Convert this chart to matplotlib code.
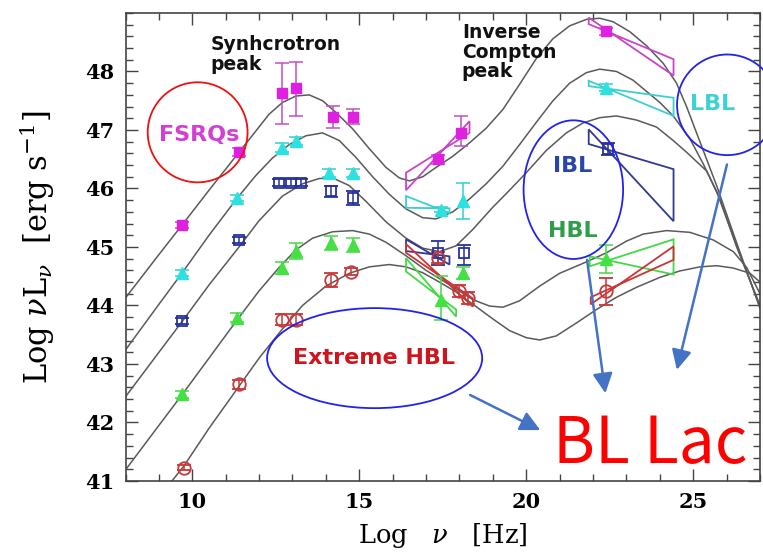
import numpy as np
import matplotlib
matplotlib.use('Agg')
import matplotlib.pyplot as plt
from matplotlib.patches import Ellipse, Polygon
from matplotlib.ticker import MultipleLocator

plt.rcParams['mathtext.fontset'] = 'dejavuserif'

### Model SEDs (log nu, log nuL_nu), brightest to faintest ###
fsrq_nu = [8.0, 9.0, 9.7, 10.5, 11.4, 11.9, 12.3, 12.7, 13.1, 13.5, 13.9, 14.3, 14.8, 15.3, 15.8,
           16.2, 16.5, 16.9, 17.3, 17.8, 18.3, 18.8, 19.3, 19.8, 20.3, 20.8, 21.3, 21.8, 22.2,
           22.6, 23.1, 23.6, 24.1, 24.5, 24.8, 25.2, 25.7, 26.3, 27.0]
fsrq_L = [44.13, 44.87, 45.38, 45.97, 46.62, 46.98, 47.27, 47.47, 47.58, 47.60, 47.50, 47.30, 47.02,
          46.68, 46.36, 46.18, 46.13, 46.20, 46.36, 46.55, 46.78, 47.03, 47.35, 47.78, 48.22, 48.56,
          48.78, 48.89, 48.91, 48.85, 48.68, 48.44, 48.14, 47.80, 47.40, 46.80, 46.05, 45.07, 43.95]

lbl_nu = [8.0, 9.0, 9.7, 10.5, 11.35, 11.9, 12.4, 12.9, 13.4, 13.9, 14.4, 14.9, 15.4, 15.9, 16.4,
          16.9, 17.3, 17.8, 18.3, 18.8, 19.3, 19.8, 20.3, 20.8, 21.3, 21.8, 22.2, 22.7, 23.2, 23.6,
          24.0, 24.4, 24.9, 25.3, 25.7, 26.3, 27.0]
lbl_L = [43.24, 44.02, 44.56, 45.20, 45.84, 46.22, 46.52, 46.75, 46.90, 46.95, 46.82, 46.53, 46.20,
         45.90, 45.65, 45.50, 45.48, 45.60, 45.82, 46.08, 46.38, 46.75, 47.13, 47.50, 47.80, 47.98,
         48.04, 48.00, 47.85, 47.66, 47.47, 47.24, 46.85, 46.42, 45.95, 45.02, 43.98]

ibl_nu = [8.0, 9.0, 9.7, 10.5, 11.4, 12.0, 12.7, 13.3, 13.8, 14.2, 14.7, 15.2, 15.8, 16.4, 16.9,
          17.4, 17.9, 18.4, 19.0, 19.5, 20.0, 20.6, 21.2, 21.7, 22.2, 22.7, 23.3, 23.9, 24.4, 24.8,
          25.4, 25.8, 26.3, 27.0]
ibl_L = [42.44, 43.20, 43.73, 44.35, 45.00, 45.45, 45.87, 46.08, 46.17, 46.18, 46.05, 45.78, 45.43,
         45.15, 44.98, 44.92, 45.02, 45.30, 45.68, 45.97, 46.27, 46.65, 46.95, 47.12, 47.21, 47.24,
         47.17, 47.05, 46.82, 46.62, 46.30, 45.82, 45.00, 44.00]

hbl_nu = [8.0, 9.0, 9.7, 10.5, 11.35, 12.0, 12.6, 13.1, 13.6, 14.2, 14.8, 15.3, 15.8, 16.4, 17.0,
          17.8, 18.4, 18.9, 19.3, 19.8, 20.4, 21.0, 21.7, 22.4, 23.0, 23.5, 24.2, 24.9, 25.6, 26.2,
          26.6, 27.0]
hbl_L = [41.19, 41.95, 42.48, 43.10, 43.76, 44.25, 44.65, 44.95, 45.15, 45.26, 45.28, 45.22, 45.08,
         44.85, 44.60, 44.32, 44.10, 43.99, 43.97, 44.08, 44.33, 44.55, 44.72, 44.90, 45.10, 45.22,
         45.28, 45.25, 45.12, 44.92, 44.65, 44.20]

xhbl_nu = [9.39, 9.74, 10.5, 11.4, 12.0, 12.7, 13.3, 14.0, 14.7, 15.3, 15.9, 16.4, 16.9, 17.4, 17.9,
           18.5, 19.0, 19.5, 20.0, 20.4, 20.9, 21.5, 22.1, 22.7, 23.3, 24.0, 24.6, 25.2, 25.7, 26.2,
           26.7, 27.0]
xhbl_L = [41.00, 41.25, 41.90, 42.62, 43.10, 43.60, 44.00, 44.33, 44.55, 44.66, 44.70, 44.66, 44.56,
          44.40, 44.23, 43.98, 43.77, 43.57, 43.45, 43.41, 43.48, 43.70, 43.93, 44.14, 44.31, 44.48,
          44.59, 44.66, 44.68, 44.64, 44.55, 44.40]

### Averaged photometry: x, y, lower error, upper error ###
fsrq_x = [9.7, 11.4, 12.7, 13.1, 14.2, 14.8, 17.35, 18.05, 22.4]
fsrq_y = [45.38, 46.62, 47.63, 47.71, 47.23, 47.23, 46.50, 46.95, 48.69]
fsrq_lo = [0.05, 0.07, 0.53, 0.47, 0.19, 0.12, 0.08, 0.23, 0.06]
fsrq_hi = [0.05, 0.07, 0.52, 0.45, 0.18, 0.12, 0.08, 0.29, 0.06]

lbl_x = [9.7, 11.35, 12.7, 13.1, 14.1, 14.8, 17.45, 18.1, 22.4]
lbl_y = [44.56, 45.84, 46.70, 46.81, 46.27, 46.27, 45.64, 45.78, 47.72]
lbl_lo = [0.05, 0.05, 0.07, 0.07, 0.07, 0.07, 0.05, 0.31, 0.06]
lbl_hi = [0.05, 0.05, 0.07, 0.07, 0.07, 0.07, 0.05, 0.32, 0.06]

ibl_x = [9.7, 11.4, 12.6, 12.95, 13.25, 14.15, 14.8, 17.35, 18.15, 22.45]
ibl_y = [43.73, 45.12, 46.10, 46.10, 46.10, 45.95, 45.84, 44.90, 44.90, 46.67]
ibl_lo = [0.05, 0.05, 0.06, 0.06, 0.06, 0.10, 0.12, 0.20, 0.20, 0.10]
ibl_hi = [0.05, 0.05, 0.06, 0.06, 0.06, 0.10, 0.12, 0.20, 0.14, 0.10]

hbl_x = [9.7, 11.35, 12.7, 13.1, 14.15, 14.8, 17.45, 18.1, 22.4]
hbl_y = [42.48, 43.79, 44.64, 44.93, 45.07, 45.03, 44.10, 44.56, 44.80]
hbl_lo = [0.06, 0.08, 0.10, 0.13, 0.12, 0.12, 0.34, 0.10, 0.24]
hbl_hi = [0.06, 0.08, 0.10, 0.13, 0.12, 0.12, 0.40, 0.10, 0.24]

xhbl_x = [9.75, 11.4, 12.7, 13.1, 14.15, 14.75, 17.35, 18.0, 18.25, 22.4]
xhbl_y = [41.23, 42.65, 43.76, 43.76, 44.44, 44.58, 44.82, 44.25, 44.13, 44.24]
xhbl_lo = [0.05, 0.08, 0.10, 0.10, 0.12, 0.06, 0.10, 0.10, 0.10, 0.23]
xhbl_hi = [0.05, 0.08, 0.10, 0.10, 0.12, 0.06, 0.10, 0.10, 0.10, 0.23]

### X-ray and gamma-ray bow ties: x_left, x_right, (y_left_a, y_left_b), (y_right_a, y_right_b) ###
fsrq_ties = [(16.4, 18.3, (46.27, 45.97), (46.95, 47.15)),
             (21.87, 24.41, (48.92, 48.81), (47.93, 48.21))]
lbl_ties = [(16.4, 17.7, (45.87, 45.67), (45.58, 45.66)),
            (21.87, 24.41, (47.84, 47.75), (47.24, 47.55))]
ibl_ties = [(16.4, 17.7, (45.13, 44.93), (44.70, 44.84)),
            (21.87, 24.41, (47.01, 46.76), (45.44, 46.33))]
hbl_ties = [(16.4, 17.9, (44.81, 44.58), (43.81, 43.93)),
            (21.9, 24.41, (44.84, 44.67), (44.53, 45.13))]
xhbl_ties = [(16.4, 18.4, (45.05, 44.90), (43.98, 44.12)),
             (21.93, 24.41, (44.02, 44.14), (45.01, 44.78))]

fig = plt.figure(figsize=(7.63, 5.54), dpi=100)
ax = fig.add_axes([0.1645, 0.1318, 0.8316, 0.8448])

for nu, L in [(fsrq_nu, fsrq_L), (lbl_nu, lbl_L), (ibl_nu, ibl_L), (hbl_nu, hbl_L), (xhbl_nu, xhbl_L)]:
	ax.plot(nu, L, color='#5a5a5a', lw=1.1, zorder=2)

def bowties(ties, color):
	for x0, x1, yl, yr in ties:
		corners = [[x0, yl[0]], [x1, yr[0]], [x1, yr[1]], [x0, yl[1]]]
		ax.add_patch(Polygon(corners, closed=True, fill=False, ec=color, lw=1.3, zorder=3))

bowties(fsrq_ties, '#c845c8')
bowties(lbl_ties, '#3ccfcf')
bowties(ibl_ties, '#2f3a92')
bowties(hbl_ties, '#45d845')
bowties(xhbl_ties, '#cc3535')

common = dict(ls='none', elinewidth=1.1, capsize=5, capthick=1.1, zorder=4)
ax.errorbar(fsrq_x, fsrq_y, yerr=[fsrq_lo, fsrq_hi], fmt='s', ms=7, mfc='#e020e0', mec='#e020e0',
            ecolor='#c050c0', **common)
ax.errorbar(lbl_x, lbl_y, yerr=[lbl_lo, lbl_hi], fmt='^', ms=8, mfc='#2fe0e0', mec='#2fe0e0',
            ecolor='#2fd0d0', **common)
ax.errorbar(ibl_x, ibl_y, yerr=[ibl_lo, ibl_hi], fmt='s', ms=7, mfc='none', mec='#26329c', mew=1.3,
            ecolor='#26329c', **common)
ax.errorbar(hbl_x, hbl_y, yerr=[hbl_lo, hbl_hi], fmt='^', ms=8, mfc='#44e044', mec='#44e044',
            ecolor='#44d844', **common)
ax.errorbar(xhbl_x, xhbl_y, yerr=[xhbl_lo, xhbl_hi], fmt='o', ms=9, mfc='none', mec='#c83838', mew=1.3,
            ecolor='#c83838', **common)

### Labels, circles and arrows ###
ax.text(10.54, 48.29, 'Synhcrotron\npeak', fontsize=13.5, weight='bold', ha='left', va='center',
        linespacing=1.05, color='#111111')
ax.text(18.07, 48.33, 'Inverse\nCompton\npeak', fontsize=13.5, weight='bold', ha='left', va='center',
        linespacing=1.05, color='#111111')

ax.text(10.22, 46.92, 'FSRQs', fontsize=16, weight='bold', color='#d23fd2', ha='center', va='center')
ax.text(25.59, 47.45, 'LBL', fontsize=16, weight='bold', color='#3cd2d2', ha='center', va='center')
ax.text(21.39, 46.38, 'IBL', fontsize=16, weight='bold', color='#2845a8', ha='center', va='center')
ax.text(21.39, 45.27, 'HBL', fontsize=16, weight='bold', color='#2e9e48', ha='center', va='center')
ax.text(15.45, 43.11, 'Extreme HBL', fontsize=16, weight='bold', color='#d0141e', ha='center', va='center')

ax.add_patch(Ellipse((10.16, 46.96), 2.99, 1.71, fill=False, ec='#ee1111', lw=1.3, zorder=5))
ax.add_patch(Ellipse((26.02, 47.43), 3.01, 1.72, fill=False, ec='#2222ee', lw=1.3, zorder=5, clip_on=False))
ax.add_patch(Ellipse((21.41, 45.98), 2.98, 2.37, fill=False, ec='#2222ee', lw=1.3, zorder=5))
ax.add_patch(Ellipse((15.46, 43.10), 6.44, 1.71, fill=False, ec='#2222ee', lw=1.3, zorder=5))

arrow = dict(arrowstyle='-|>,head_length=0.8,head_width=0.4', mutation_scale=15, color='#4472c4',
             lw=1.8, shrinkA=0, shrinkB=0)
ax.annotate('', xy=(20.42, 41.87), xytext=(18.32, 42.47), arrowprops=arrow)
ax.annotate('', xy=(22.37, 42.50), xytext=(21.82, 44.78), arrowprops=arrow)
ax.annotate('', xy=(24.51, 42.90), xytext=(26.01, 46.41), arrowprops=arrow)

ax.text(20.81, 41.3, 'BL Lac', fontsize=46, color='#ff0000', ha='left', va='baseline',
        family=['Noto Sans CJK JP', 'DejaVu Sans'])

### Axes ###
ax.set_xlim(8, 27)
ax.set_ylim(41, 49)
ax.set_xticks([10, 15, 20, 25])
ax.set_yticks(range(41, 49))
ax.xaxis.set_minor_locator(MultipleLocator(1))
ax.yaxis.set_minor_locator(MultipleLocator(0.2))
ax.tick_params(which='both', direction='in', top=True, right=True, color='#444444', width=1)
ax.tick_params(which='major', length=8.5, labelsize=15, pad=8)
ax.tick_params(which='minor', length=5)
for lbl in ax.get_xticklabels() + ax.get_yticklabels():
	lbl.set_family('DejaVu Serif')
	lbl.set_weight('bold')
for s in ax.spines.values():
	s.set_color('#444444')
	s.set_linewidth(1.2)

ax.set_xlabel(r'Log   $\nu$   [Hz]', fontsize=18.5, family='DejaVu Serif')
ax.set_ylabel(r'Log $\nu$L$_{\nu}$  [erg s$^{-1}$]', fontsize=22, family='DejaVu Serif')
ax.xaxis.set_label_coords(0.5, -0.085)
ax.yaxis.set_label_coords(-0.108, 0.5)

fig.savefig('out.png', dpi=100)
